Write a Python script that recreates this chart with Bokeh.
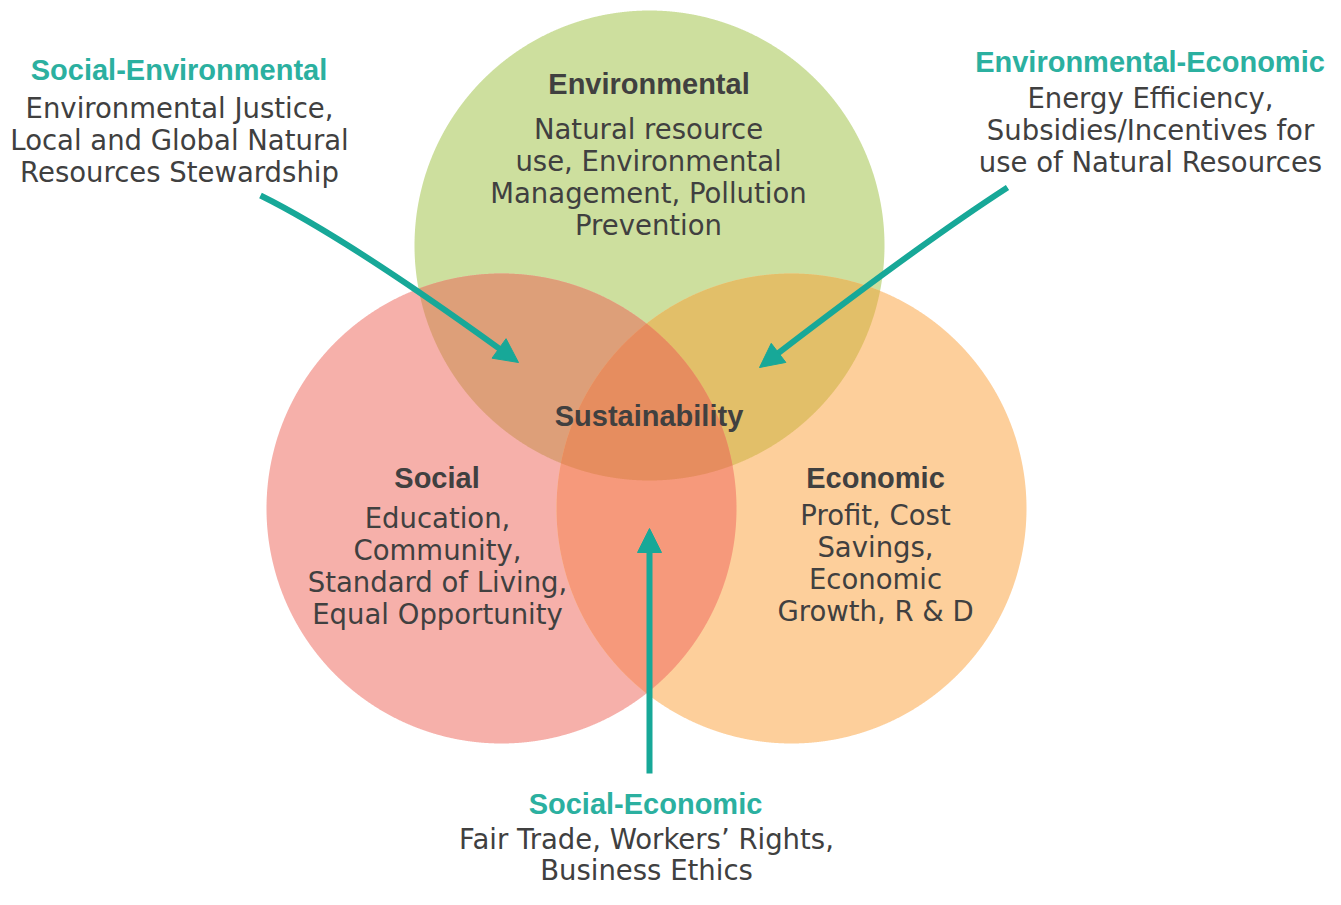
import numpy as np
from bokeh.plotting import figure
from bokeh.models import Range1d, Arrow, NormalHead
from bokeh.core.properties import value
from bokeh.embed import file_html
from bokeh.resources import INLINE

# ---------------- data (texts) ----------------
circle_names = ["Environmental", "Social", "Economic"]
circle_descriptions = [
    ["Natural resource", "use, Environmental", "Management, Pollution", "Prevention"],
    ["Education,", "Community,", "Standard of Living,", "Equal Opportunity"],
    ["Profit, Cost", "Savings,", "Economic", "Growth, R & D"],
]
overlap_names = ["Social-Environmental", "Environmental-Economic", "Social-Economic"]
overlap_descriptions = [
    ["Environmental Justice,", "Local and Global Natural", "Resources Stewardship"],
    ["Energy Efficiency,", "Subsidies/Incentives for", "use of Natural Resources"],
    ["Fair Trade, Workers\u2019 Rights,", "Business Ethics"],
]
center_label = "Sustainability"

# ---------------- layout / style ----------------
circle_cx = [649, 501, 791]
circle_cy = [245, 508, 508]
R = 235
circle_colors = ["#cddf9e", "#f6b0aa", "#fdcf9b"]
pair_regions = [(0, 1), (0, 2), (1, 2)]
pair_colors = ["#dd9f79", "#e2bf69", "#f6997b"]
center_color = "#e68d5f"

TEXT = "#404040"
TEAL_TXT = "#2bb0a0"
TEAL = "#17a898"
BODY_FONT = "DejaVu Sans"
BODY_SIZE = "27.5px"
BOLD_FONT = "Liberation Sans"
BOLD_SIZE = "29px"
DY = -11  # baseline correction of the svg text renderer

circle_title_pos = [(648.5, 94), (436.5, 488), (875, 488)]
circle_body_pos = [(648, 139), (437, 528), (875, 525)]
overlap_title_pos = [(178.5, 80), (1149.5, 72), (645, 814)]
overlap_body_pos = [(179, 118), (1150, 108), (646, 849)]
overlap_line_step = [32, 32, 31]
center_pos = (648.5, 426)

# arrows: start, control, tip
arrows = [
    ((260, 195), (345, 237), (518, 362)),
    ((1007, 187), (922, 242), (759, 367)),
    ((649, 773), (649, 650), (649, 528)),
]
HEAD = 24

W, H = 1325, 889
p = figure(width=W, height=H, x_range=Range1d(0, W), y_range=Range1d(H, 0),
           output_backend="svg", toolbar_location=None, min_border=0,
           x_axis_location=None, y_axis_location=None)
p.grid.visible = False
p.outline_line_color = None
p.background_fill_color = "white"
p.border_fill_color = "white"


def region(idx):
    th = np.linspace(0, 2 * np.pi, 2881)
    pts = []
    for i in idx:
        x = circle_cx[i] + R * np.cos(th)
        y = circle_cy[i] + R * np.sin(th)
        m = np.ones_like(x, dtype=bool)
        for j in idx:
            if j != i:
                m &= (x - circle_cx[j]) ** 2 + (y - circle_cy[j]) ** 2 <= R ** 2 + 1e-6
        pts.append(np.c_[x[m], y[m]])
    P = np.vstack(pts)
    c = P.mean(axis=0)
    o = np.argsort(np.arctan2(P[:, 1] - c[1], P[:, 0] - c[0]))
    return list(P[o, 0]), list(P[o, 1])


xs, ys, cols = [], [], []
for i in range(3):
    a, b = region([i])
    xs.append(a); ys.append(b); cols.append(circle_colors[i])
for (i, j), c in zip(pair_regions, pair_colors):
    a, b = region([i, j])
    xs.append(a); ys.append(b); cols.append(c)
a, b = region([0, 1, 2])
xs.append(a); ys.append(b); cols.append(center_color)
p.patches(xs=xs, ys=ys, fill_color=cols, line_color=None)

# arrows
for (s, c, t) in arrows:
    s = np.array(s, float); c = np.array(c, float); t = np.array(t, float)
    u = (t - c) / np.linalg.norm(t - c)
    base = t - (HEAD - 2) * u
    p.quadratic(x0=[s[0]], y0=[s[1]], x1=[base[0]], y1=[base[1]], cx=[c[0]], cy=[c[1]],
                line_color=TEAL, line_width=6)
    back = t - HEAD * u
    p.add_layout(Arrow(end=NormalHead(size=HEAD, fill_color=TEAL, line_color=TEAL, line_width=1),
                       x_start=back[0], y_start=back[1], x_end=t[0], y_end=t[1],
                       line_alpha=0))

# texts
bx, by, bt = [], [], []
for (x, y), lines in zip(circle_body_pos, circle_descriptions):
    for k, ln in enumerate(lines):
        bx.append(x); by.append(y + k * 32 + DY); bt.append(ln)
for (x, y), step, lines in zip(overlap_body_pos, overlap_line_step, overlap_descriptions):
    for k, ln in enumerate(lines):
        bx.append(x); by.append(y + k * step + DY); bt.append(ln)
p.text(x=bx, y=by, text=bt, text_font=value(BODY_FONT), text_font_size=BODY_SIZE,
       text_align="center", text_baseline="alphabetic", text_color=TEXT)

tx = [q[0] for q in circle_title_pos] + [center_pos[0]]
ty = [q[1] + DY for q in circle_title_pos] + [center_pos[1] + DY]
tt = circle_names + [center_label]
p.text(x=tx, y=ty, text=tt, text_font=value(BOLD_FONT), text_font_size=BOLD_SIZE,
       text_font_style="bold", text_align="center", text_baseline="alphabetic", text_color=TEXT)

p.text(x=[q[0] for q in overlap_title_pos], y=[q[1] + DY for q in overlap_title_pos], text=overlap_names,
       text_font=value(BOLD_FONT), text_font_size=BOLD_SIZE, text_font_style="bold",
       text_align="center", text_baseline="alphabetic", text_color=TEAL_TXT)

open("out.html", "w").write(file_html(p, INLINE))
